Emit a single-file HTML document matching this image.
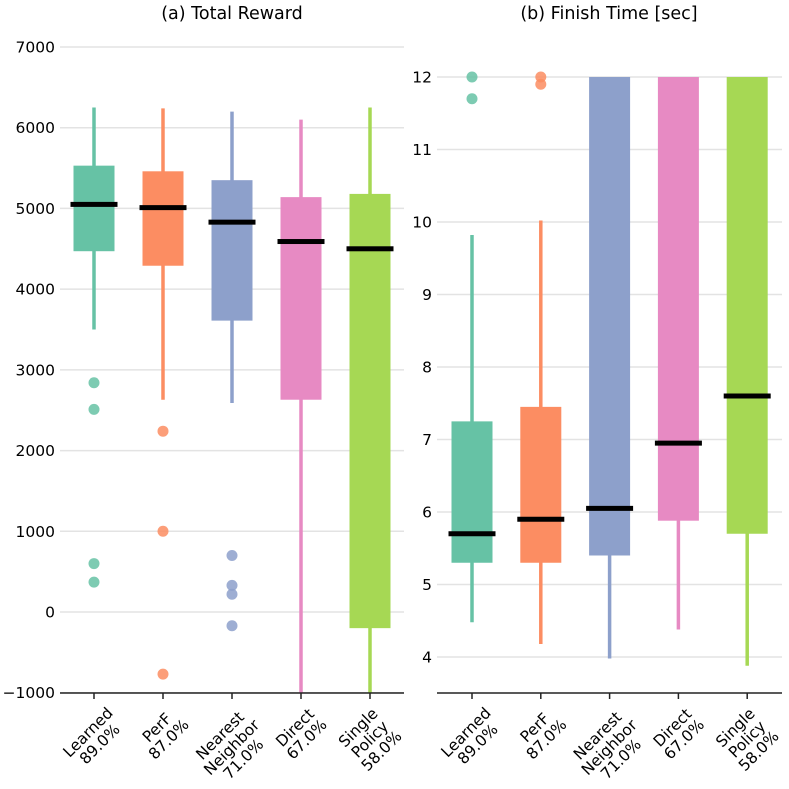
<!DOCTYPE html>
<html><head><meta charset="utf-8"><style>
body{margin:0;background:#fff;}
svg{display:block;font-family:"DejaVu Sans","Liberation Sans",sans-serif;}
</style></head><body>
<svg id="chart" width="789" height="789" viewBox="0 0 789 789">
<text x="232" y="19" font-size="17.5" text-anchor="middle">(a) Total Reward</text>
<text x="609" y="19" font-size="17.5" text-anchor="middle">(b) Finish Time [sec]</text>
</svg>
<script>
const categories = [["Learned","89.0%"],["PerF","87.0%"],["Nearest","Neighbor","71.0%"],["Direct","67.0%"],["Single","Policy","58.0%"]];
const colors = ["#66c2a5","#fc8d62","#8da0cb","#e78ac3","#a6d854"];
// reward: [whiskerLow, q1, median, q3, whiskerHigh]
const rewardStats = [[3500,4470,5050,5530,6250],[2630,4290,5010,5460,6240],[2590,3610,4830,5350,6200],[-1000,2630,4590,5140,6100],[-1000,-200,4500,5180,6250]];
const rewardOutliers = [[2840,2510,600,370],[2240,1000,-770],[700,330,220,-170],[],[]];
const rewardTicks = [-1000,0,1000,2000,3000,4000,5000,6000,7000];
const timeStats = [[4.48,5.3,5.7,7.25,9.82],[4.18,5.3,5.9,7.45,10.02],[3.98,5.4,6.05,12,12],[4.38,5.88,6.95,12,12],[3.88,5.7,7.6,12,12]];
const timeOutliers = [[12,11.7],[12,11.9],[],[],[]];
const timeTicks = [4,5,6,7,8,9,10,11,12];

const svg = document.getElementById('chart');
const NS = 'http://www.w3.org/2000/svg';
function mk(tag, attrs, parent){const e=document.createElementNS(NS,tag);for(const k in attrs)e.setAttribute(k,attrs[k]);(parent||svg).appendChild(e);return e;}

function panel(cfg){
  const g = mk('g',{});
  
  
  const y = v => cfg.y0 + (v - cfg.v0) * (cfg.y1 - cfg.y0) / (cfg.v1 - cfg.v0);
  const x = i => cfg.xc0 + i * cfg.step;
  cfg.ticks.forEach(t=>{
    const l = mk('line',{x1:cfg.ax0,x2:cfg.ax1,y1:y(t),y2:y(t),stroke:'#e3e3e3','stroke-width':1.5},g);
    
    
    const tx = mk('text',{x:cfg.ax0-5,y:y(t)+5.5,'font-size':15.5,'text-anchor':'end'},g);
    tx.textContent = t<0 ? '\u2212'+(-t) : String(t);
    
    
  });
  const clip = v => Math.max(v, cfg.vmin);
  cfg.stats.forEach((s,i)=>{
    const cx = x(i), c = colors[i];
    const w = mk('line',{x1:cx,x2:cx,y1:y(clip(s[0])),y2:y(s[4]),stroke:c,'stroke-width':3.5},g);
    
    
    const b = mk('rect',{x:cx-20.5,y:y(s[3]),width:41,height:Math.max(0,y(s[1])-y(s[3])),fill:c},g);
    
    
    const m = mk('rect',{x:cx-23.5,y:y(s[2])-2.5,width:47,height:5,fill:'#000'},g);
    
    
    cfg.outliers[i].forEach(o=>{
      const p = mk('circle',{cx:cx,cy:y(o),r:5.5,fill:c,'fill-opacity':0.85},g);
      
      
    });
  });
  const ax = mk('line',{x1:cfg.ax0,x2:cfg.ax1,y1:693,y2:693,stroke:'#222','stroke-width':1.5},g);
  
  
  categories.forEach((lines,i)=>{
    const cx = x(i);
    const tk = mk('line',{x1:cx,x2:cx,y1:693,y2:699,stroke:'#222','stroke-width':1.5},g);
    
    
    const wrap = mk('g',{},g);
    const t = mk('text',{'font-size':15.5,'text-anchor':'middle',transform:'rotate(-45)'},wrap);
    
    
    lines.forEach((ln,j)=>{
      const ts = mk('tspan',{x:0,y:j*16.5},t);
      ts.textContent = ln;
    });
    const bb = wrap.getBBox();
    wrap.setAttribute('transform',`translate(${cx-(bb.x+bb.width/2)},${704-bb.y})`);
  });
}
panel({name:'reward-panel',y0:612,y1:47,v0:0,v1:7000,vmin:-1000,ax0:60,ax1:404,xc0:94,step:69,ticks:rewardTicks,stats:rewardStats,outliers:rewardOutliers});
panel({name:'time-panel',y0:657,y1:77,v0:4,v1:12,vmin:3.52,ax0:437,ax1:782,xc0:472,step:68.8,ticks:timeTicks,stats:timeStats,outliers:timeOutliers});
</script>
</body></html>
